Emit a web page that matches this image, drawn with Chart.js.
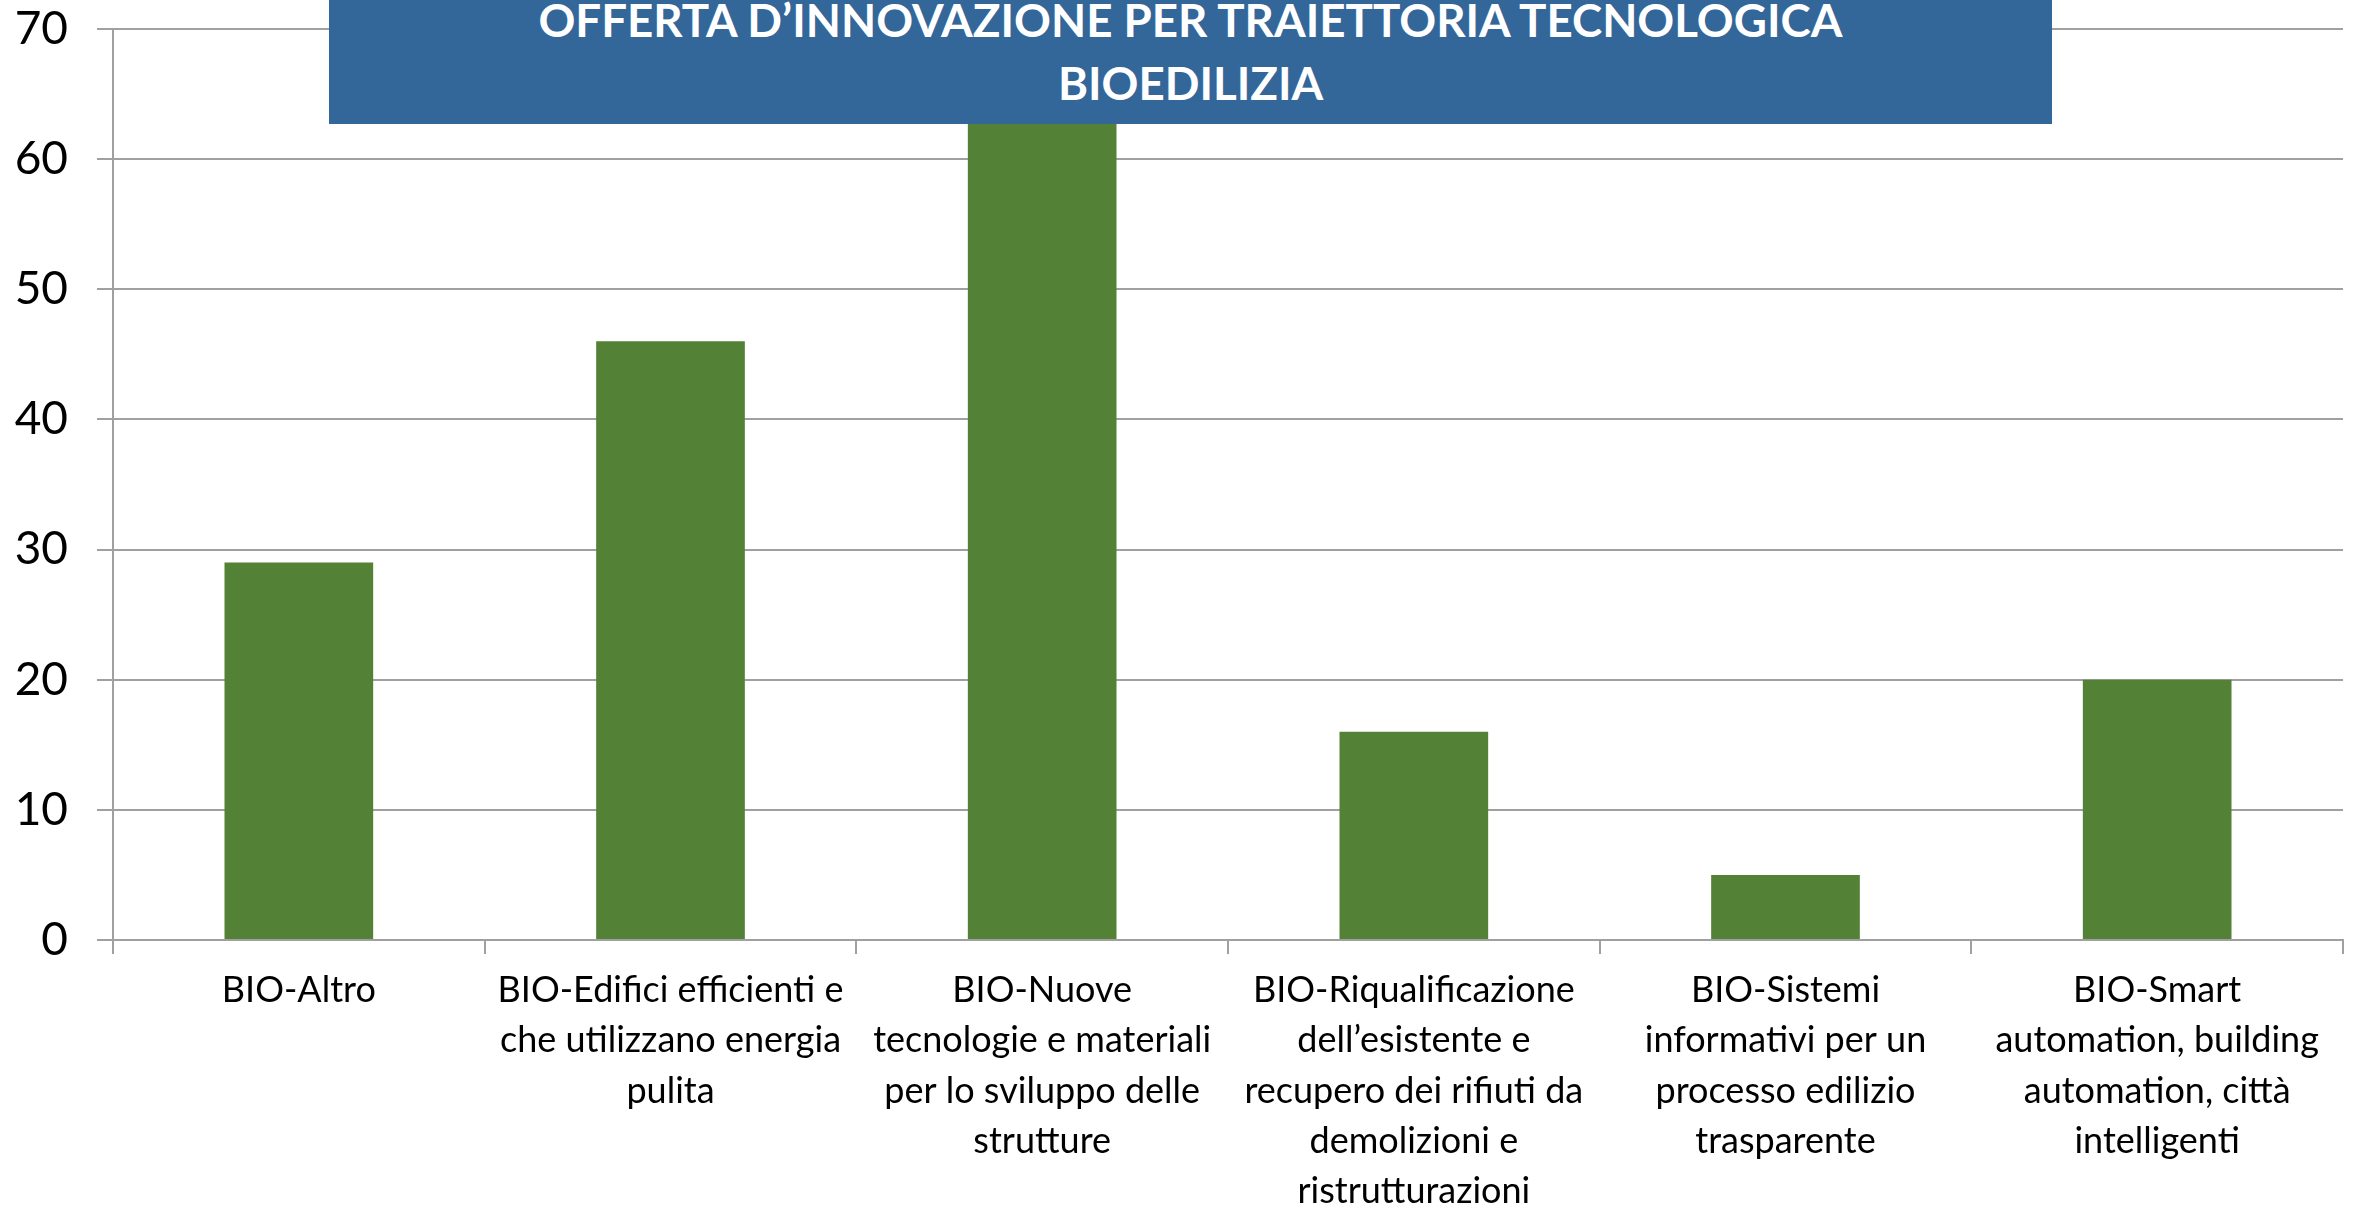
<!DOCTYPE html>
<html>
<head>
<meta charset="utf-8">
<script src="https://cdn.jsdelivr.net/npm/chart.js@4.4.0/dist/chart.umd.min.js"></script>
<style>
  html, body { margin: 0; padding: 0; background: #ffffff; }
  #wrap { position: relative; width: 2366px; height: 1211px; overflow: hidden; background: #fff; }
  #chart { position: absolute; left: 0; top: 0; }
  #titleBox { position: absolute; left: 329px; top: 0; width: 1723px; height: 124px; background: #336699; }
  .tline { position: absolute; left: 0; width: 1723px; text-align: center; color: #ffffff;
           font-family: Lato, "Open Sans", sans-serif; font-weight: 700; font-size: 46px; line-height: 46px; white-space: nowrap; }
  .tline span { display: inline-block; transform-origin: center center; }
</style>
</head>
<body>
<div id="wrap">
  <canvas id="chart" width="2366" height="1211"></canvas>
  <div id="titleBox">
    <div class="tline" id="t1" style="top:-3px;"><span>OFFERTA D’INNOVAZIONE PER TRAIETTORIA TECNOLOGICA</span></div>
    <div class="tline" id="t2" style="top:60px;"><span>BIOEDILIZIA</span></div>
  </div>
</div>
<script>
const categories = [
  ["BIO-Altro"],
  ["BIO-Edifici efficienti e", "che utilizzano energia", "pulita"],
  ["BIO-Nuove", "tecnologie e materiali", "per lo sviluppo delle", "strutture"],
  ["BIO-Riqualificazione", "dell’esistente e", "recupero dei rifiuti da", "demolizioni e", "ristrutturazioni"],
  ["BIO-Sistemi", "informativi per un", "processo edilizio", "trasparente"],
  ["BIO-Smart", "automation, building", "automation, città", "intelligenti"]
];
const values = [29, 46, 66, 16, 5, 20];
const yTicks = [0, 10, 20, 30, 40, 50, 60, 70];

// Fit title width like the reference
(function () {
  const s1 = document.querySelector('#t1 span');
  const s2 = document.querySelector('#t2 span');
  const ratio = 1304 / s1.getBoundingClientRect().width;
  s1.style.transform = 'scaleX(' + ratio + ')';
  s2.style.transform = 'scaleX(' + ratio + ')';
})();

const gridColor = '#a0a0a0';
new Chart(document.getElementById('chart'), {
  type: 'bar',
  data: {
    labels: categories,
    datasets: [{
      data: values,
      backgroundColor: '#538135',
      borderWidth: 0,
      categoryPercentage: 1.0,
      barPercentage: 0.4
    }]
  },
  options: {
    responsive: false,
    animation: false,
    devicePixelRatio: 1,
    layout: { padding: { left: 0, right: 23, top: 29, bottom: 0 } },
    plugins: { legend: { display: false }, tooltip: { enabled: false }, title: { display: false } },
    scales: {
      x: {
        afterFit: (s) => { s.height = 271; s.paddingLeft = 0; s.paddingRight = 0; },
        grid: { offset: true, drawOnChartArea: false, drawTicks: true, tickLength: 14, color: gridColor, lineWidth: 2 },
        border: { display: true, color: gridColor, width: 2 },
        ticks: {
          autoSkip: false, maxRotation: 0, minRotation: 0, padding: 11, color: '#000000',
          font: { family: 'Lato, "Open Sans", sans-serif', size: 36, lineHeight: 1.4 }
        }
      },
      y: {
        min: 0, max: 70,
        afterFit: (s) => { s.width = 113; s.paddingTop = 0; s.paddingBottom = 0; },
        afterBuildTicks: (s) => { s.ticks = yTicks.map(v => ({ value: v })); },
        grid: { color: gridColor, lineWidth: 2, tickLength: 16, drawTicks: true },
        border: { display: true, color: gridColor, width: 2 },
        ticks: {
          padding: 29, color: '#000000',
          font: { family: 'Lato, "Open Sans", sans-serif', size: 46 }
        }
      }
    }
  }
});
</script>
</body>
</html>
